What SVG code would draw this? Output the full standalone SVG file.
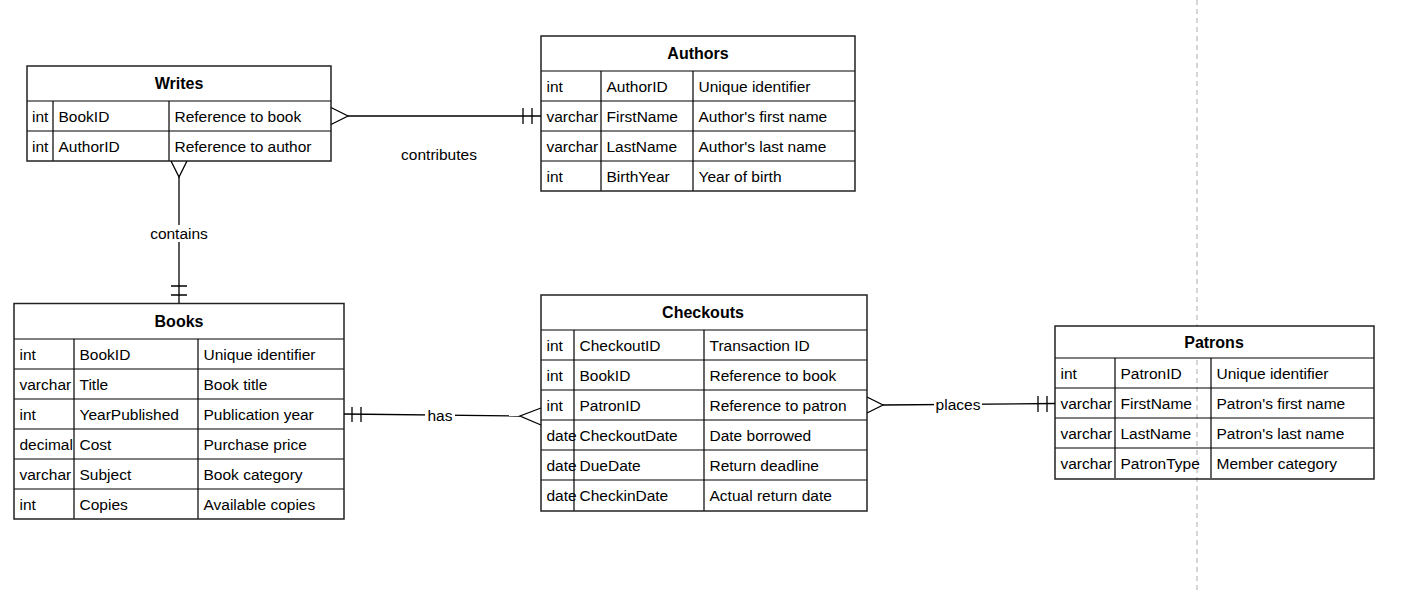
<svg xmlns="http://www.w3.org/2000/svg" width="1405" height="594" viewBox="0 0 1405 594">
<style>
.t{font-family:"Liberation Sans",Arial,sans-serif;font-size:15.5px;fill:#000}
.h{font-family:"Liberation Sans",Arial,sans-serif;font-size:16px;font-weight:bold;fill:#000;text-anchor:middle}
.lbl{font-family:"Liberation Sans",Arial,sans-serif;font-size:15.5px;fill:#000;text-anchor:middle}
.box{fill:none;stroke:#222;stroke-width:1.5}
.hd{fill:#fff;stroke:none}
.ln{stroke:#000;stroke-width:1.2;fill:none}
.edge{stroke:#000;stroke-width:1.3;fill:none}
.lbg{fill:#fff}
</style>
<rect x="0" y="0" width="1405" height="594" fill="#fff"/>
<line x1="1197" y1="0" x2="1197" y2="594" stroke="#c8c8c8" stroke-width="1.5" stroke-dasharray="5 4"/>

<g id="writes">
<rect class="hd" x="27" y="66" width="304" height="35"/>
<line class="ln" x1="27" y1="101" x2="331" y2="101"/>
<line class="ln" x1="27" y1="131" x2="331" y2="131"/>
<line class="ln" x1="53" y1="101" x2="53" y2="161"/>
<line class="ln" x1="169" y1="101" x2="169" y2="161"/>
<rect class="box" x="27" y="66" width="304" height="95"/>
<text class="h" x="179" y="89.3">Writes</text>
<text class="t" x="32" y="121.5">int</text><text class="t" x="58.5" y="121.5">BookID</text><text class="t" x="174.5" y="121.5">Reference to book</text>
<text class="t" x="32" y="151.5">int</text><text class="t" x="58.5" y="151.5">AuthorID</text><text class="t" x="174.5" y="151.5">Reference to author</text>
</g>

<g id="authors">
<rect class="hd" x="541" y="36" width="314" height="35"/>
<line class="ln" x1="541" y1="71" x2="855" y2="71"/>
<line class="ln" x1="541" y1="101" x2="855" y2="101"/>
<line class="ln" x1="541" y1="131" x2="855" y2="131"/>
<line class="ln" x1="541" y1="161" x2="855" y2="161"/>
<line class="ln" x1="601" y1="71" x2="601" y2="191"/>
<line class="ln" x1="693" y1="71" x2="693" y2="191"/>
<rect class="box" x="541" y="36" width="314" height="155"/>
<text class="h" x="698" y="59.2">Authors</text>
<text class="t" x="546.5" y="91.5">int</text><text class="t" x="606.5" y="91.5">AuthorID</text><text class="t" x="698.5" y="91.5">Unique identifier</text>
<text class="t" x="546.5" y="121.5">varchar</text><text class="t" x="606.5" y="121.5">FirstName</text><text class="t" x="698.5" y="121.5">Author's first name</text>
<text class="t" x="546.5" y="151.5">varchar</text><text class="t" x="606.5" y="151.5">LastName</text><text class="t" x="698.5" y="151.5">Author's last name</text>
<text class="t" x="546.5" y="181.5">int</text><text class="t" x="606.5" y="181.5">BirthYear</text><text class="t" x="698.5" y="181.5">Year of birth</text>
</g>

<g id="books">
<rect class="hd" x="14" y="303.5" width="330" height="35.5"/>
<line class="ln" x1="14" y1="339" x2="344" y2="339"/>
<line class="ln" x1="14" y1="369" x2="344" y2="369"/>
<line class="ln" x1="14" y1="399" x2="344" y2="399"/>
<line class="ln" x1="14" y1="429" x2="344" y2="429"/>
<line class="ln" x1="14" y1="459" x2="344" y2="459"/>
<line class="ln" x1="14" y1="489" x2="344" y2="489"/>
<line class="ln" x1="74" y1="339" x2="74" y2="519"/>
<line class="ln" x1="198" y1="339" x2="198" y2="519"/>
<rect class="box" x="14" y="303.5" width="330" height="215.5"/>
<text class="h" x="179" y="327">Books</text>
<text class="t" x="19.5" y="359.5">int</text><text class="t" x="79.5" y="359.5">BookID</text><text class="t" x="203.5" y="359.5">Unique identifier</text>
<text class="t" x="19.5" y="389.5">varchar</text><text class="t" x="79.5" y="389.5">Title</text><text class="t" x="203.5" y="389.5">Book title</text>
<text class="t" x="19.5" y="419.5">int</text><text class="t" x="79.5" y="419.5">YearPublished</text><text class="t" x="203.5" y="419.5">Publication year</text>
<text class="t" x="19.5" y="449.5">decimal</text><text class="t" x="79.5" y="449.5">Cost</text><text class="t" x="203.5" y="449.5">Purchase price</text>
<text class="t" x="19.5" y="479.5">varchar</text><text class="t" x="79.5" y="479.5">Subject</text><text class="t" x="203.5" y="479.5">Book category</text>
<text class="t" x="19.5" y="509.5">int</text><text class="t" x="79.5" y="509.5">Copies</text><text class="t" x="203.5" y="509.5">Available copies</text>
</g>

<g id="checkouts">
<rect class="hd" x="541" y="295" width="326" height="35"/>
<line class="ln" x1="541" y1="330" x2="867" y2="330"/>
<line class="ln" x1="541" y1="360" x2="867" y2="360"/>
<line class="ln" x1="541" y1="390" x2="867" y2="390"/>
<line class="ln" x1="541" y1="420" x2="867" y2="420"/>
<line class="ln" x1="541" y1="450" x2="867" y2="450"/>
<line class="ln" x1="541" y1="480" x2="867" y2="480"/>
<line class="ln" x1="574" y1="330" x2="574" y2="511"/>
<line class="ln" x1="704" y1="330" x2="704" y2="511"/>
<rect class="box" x="541" y="295" width="326" height="216"/>
<text class="h" x="703" y="318.2">Checkouts</text>
<text class="t" x="546.5" y="350.5">int</text><text class="t" x="579.5" y="350.5">CheckoutID</text><text class="t" x="709.5" y="350.5">Transaction ID</text>
<text class="t" x="546.5" y="380.5">int</text><text class="t" x="579.5" y="380.5">BookID</text><text class="t" x="709.5" y="380.5">Reference to book</text>
<text class="t" x="546.5" y="410.5">int</text><text class="t" x="579.5" y="410.5">PatronID</text><text class="t" x="709.5" y="410.5">Reference to patron</text>
<text class="t" x="546.5" y="440.5">date</text><text class="t" x="579.5" y="440.5">CheckoutDate</text><text class="t" x="709.5" y="440.5">Date borrowed</text>
<text class="t" x="546.5" y="470.5">date</text><text class="t" x="579.5" y="470.5">DueDate</text><text class="t" x="709.5" y="470.5">Return deadline</text>
<text class="t" x="546.5" y="501">date</text><text class="t" x="579.5" y="501">CheckinDate</text><text class="t" x="709.5" y="501">Actual return date</text>
</g>

<g id="patrons">
<rect class="hd" x="1055" y="326" width="319" height="32"/>
<line class="ln" x1="1055" y1="358" x2="1374" y2="358"/>
<line class="ln" x1="1055" y1="388" x2="1374" y2="388"/>
<line class="ln" x1="1055" y1="418" x2="1374" y2="418"/>
<line class="ln" x1="1055" y1="448" x2="1374" y2="448"/>
<line class="ln" x1="1115" y1="358" x2="1115" y2="478"/>
<line class="ln" x1="1211" y1="358" x2="1211" y2="478"/>
<rect class="box" x="1055" y="326" width="319" height="153"/>
<text class="h" x="1214" y="347.7">Patrons</text>
<text class="t" x="1060.5" y="378.5">int</text><text class="t" x="1120.5" y="378.5">PatronID</text><text class="t" x="1216.5" y="378.5">Unique identifier</text>
<text class="t" x="1060.5" y="408.5">varchar</text><text class="t" x="1120.5" y="408.5">FirstName</text><text class="t" x="1216.5" y="408.5">Patron's first name</text>
<text class="t" x="1060.5" y="438.5">varchar</text><text class="t" x="1120.5" y="438.5">LastName</text><text class="t" x="1216.5" y="438.5">Patron's last name</text>
<text class="t" x="1060.5" y="468.5">varchar</text><text class="t" x="1120.5" y="468.5">PatronType</text><text class="t" x="1216.5" y="468.5">Member category</text>
</g>

<g id="connectors">
<!-- Writes - Authors : contributes -->
<line class="edge" x1="348" y1="116" x2="541" y2="116"/>
<path class="edge" d="M331,107.5 L348,116 L331,124.5"/>
<path class="edge" d="M523,108 V124 M532,108 V124"/>
<text class="lbl" x="439" y="159.5">contributes</text>

<!-- Writes - Books : contains -->
<line class="edge" x1="179" y1="177" x2="179" y2="303"/>
<path class="edge" d="M171,161 L179,177 L187,161"/>
<path class="edge" d="M171,286 H187 M171,295 H187"/>
<rect class="lbg" x="148" y="225" width="62" height="17"/>
<text class="lbl" x="179" y="238.5">contains</text>

<!-- Books - Checkouts : has -->
<line class="edge" x1="344" y1="414" x2="520" y2="416"/>
<path class="edge" d="M352,407 V422 M361,407 V422"/>
<path class="edge" d="M541,408 L520,416 L541,425"/>
<rect class="lbg" x="425" y="406" width="30" height="17"/>
<text class="lbl" x="440" y="420.5">has</text>

<!-- Checkouts - Patrons : places -->
<line class="edge" x1="883" y1="405" x2="1055" y2="403.5"/>
<path class="edge" d="M867,397 L883,405 L867,413"/>
<path class="edge" d="M1038,396 V412 M1047,396 V412"/>
<rect class="lbg" x="934" y="396" width="48" height="17"/>
<text class="lbl" x="958" y="410">places</text>
</g>
</svg>
